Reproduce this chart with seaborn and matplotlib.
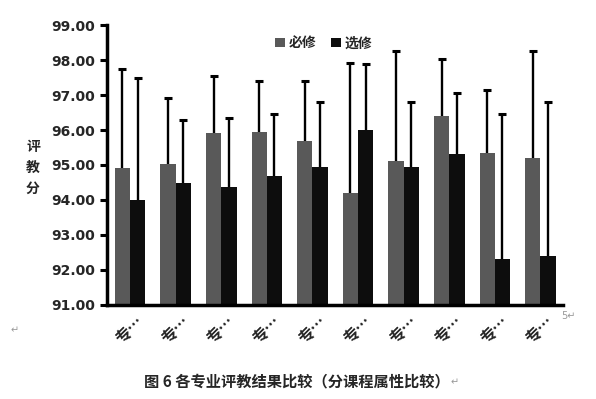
import matplotlib
matplotlib.use("Agg")
import matplotlib.pyplot as plt
import seaborn as sns
import pandas as pd
import numpy as np

categories = ["专…"] * 10
groups = ["必修", "选修"]
required_vals = [94.92, 95.03, 95.92, 95.95, 95.69, 94.19, 95.12, 96.40, 95.34, 95.20]
elective_vals = [94.00, 94.48, 94.37, 94.69, 94.94, 96.00, 94.94, 95.31, 92.31, 92.40]
required_tops = [97.75, 96.93, 97.55, 97.39, 97.41, 97.93, 98.27, 98.04, 97.15, 98.27]
elective_tops = [97.50, 96.30, 96.35, 96.45, 96.81, 97.88, 96.81, 97.07, 96.47, 96.81]
yticks = [91, 92, 93, 94, 95, 96, 97, 98, 99]

sns.set_theme(style="white")
plt.rcParams['font.family'] = ['Noto Sans CJK SC', 'DejaVu Sans']

ids = [f"c{i}" for i in range(len(categories))]
df = pd.DataFrame({
    "cat": ids * 2,
    "type": [groups[0]] * len(ids) + [groups[1]] * len(ids),
    "val": required_vals + elective_vals,
})

fig = plt.figure(figsize=(5.96, 3.99), dpi=100)
ax = fig.add_axes([0.180, 0.236, 0.765, 0.701])

sns.barplot(data=df, x="cat", y="val", hue="type", order=ids, hue_order=groups,
            palette=["#595959", "#0d0d0d"], errorbar=None, width=0.67,
            saturation=1, ax=ax, linewidth=0)

# one-sided error bars (upward), cap only at top
bars = [p for p in ax.patches if p.get_height() != 0][:2 * len(ids)]
vals = required_vals + elective_vals
tops = required_tops + elective_tops
xs = [p.get_x() + p.get_width() / 2 for p in bars]
ax.vlines(xs, vals, tops, colors="black", linewidth=1.7, zorder=5)
ax.plot(xs, tops, linestyle="none", marker="_", markersize=5.5, markeredgewidth=2.2,
        color="black", zorder=6)

ax.set_ylim(91, 99)
ax.set_yticks(yticks)
ax.set_yticklabels([f"{v:.2f}" for v in yticks], fontsize=10, fontweight="bold",
                   family=["DejaVu Sans"])
ax.set_xticks(range(len(ids)))
ax.set_xticklabels(categories, rotation=45, fontsize=11.5, fontweight="bold",
                   ha="center", va="top")
ax.tick_params(axis="x", length=0, pad=6)
ax.tick_params(axis="y", length=5, width=2.2, direction="out", pad=4, color="black", left=True)
ax.set_xlim(-0.5, len(ids) - 0.5)

for s in ["top", "right"]:
    ax.spines[s].set_visible(False)
for s in ["left", "bottom"]:
    ax.spines[s].set_linewidth(2.5)
    ax.spines[s].set_color("black")
ax.set_xlabel("")
ax.set_ylabel("")

# vertical stacked y label
fig.text(33 / 596, 1 - 168 / 399, "评\n教\n分", fontsize=10, ha="center", va="center",
         linespacing=1.6, fontweight="bold")

ax.legend(loc="upper center", bbox_to_anchor=(0.475, 1.005), ncol=2, frameon=False,
          handlelength=0.7, handleheight=0.7, handletextpad=0.3,
          columnspacing=1.0, prop={"family": ["Noto Sans CJK SC"], "size": 10,
                                   "weight": "bold"})

fig.text(297 / 596, 1 - 381 / 399, "图 6 各专业评教结果比较（分课程属性比较）", fontsize=11,
         fontweight="bold", ha="center", va="center")
fig.text(15 / 596, 1 - 330 / 399, "↵", fontsize=7, color="#999999", ha="center", va="center",
         family=["DejaVu Sans"])
fig.text(568 / 596, 1 - 316 / 399, "5↵", fontsize=7, color="#999999", ha="center", va="center",
         family=["DejaVu Sans"])
fig.text(455 / 596, 1 - 382 / 399, "↵", fontsize=7, color="#999999", ha="center", va="center",
         family=["DejaVu Sans"])

fig.savefig("out.png", dpi=100, facecolor="white")
